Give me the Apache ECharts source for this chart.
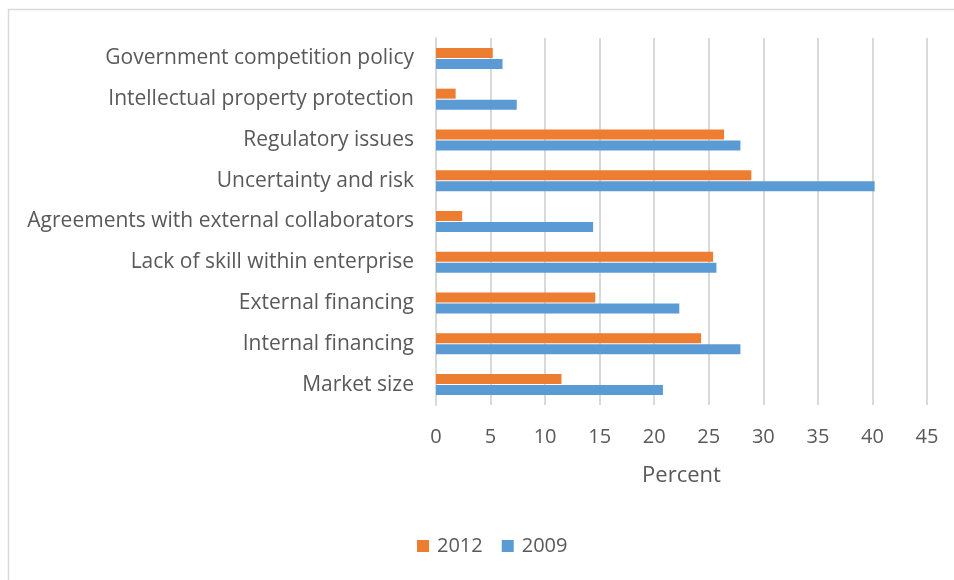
<!DOCTYPE html>
<html>
<head>
<meta charset="utf-8">
<script src="https://cdn.jsdelivr.net/npm/echarts@6/dist/echarts.min.js"></script>
<style>
  html, body { margin: 0; padding: 0; background: #fff; }
  #chart { width: 954px; height: 580px; }
</style>
</head>
<body>
<div id="chart"></div>
<script>
// Barriers to innovation, share of enterprises (top to bottom)
const categories = [
  'Government competition policy',
  'Intellectual property protection',
  'Regulatory issues',
  'Uncertainty and risk',
  'Agreements with external collaborators',
  'Lack of skill within enterprise',
  'External financing',
  'Internal financing',
  'Market size'
];
const values2012 = [5.2, 1.8, 26.4, 28.9, 2.4, 25.4, 14.6, 24.3, 11.5];
const values2009 = [6.1, 7.4, 27.9, 40.2, 14.4, 25.7, 22.3, 27.9, 20.8];
const seriesNames = ['2012', '2009'];
const xTicks = { min: 0, max: 45, interval: 5 };
const axisTitle = 'Percent';

const FONT = '"Open Sans", "Liberation Sans", sans-serif';
const TEXT = '#595959';
const GRID = '#d9d9d9';

const chart = echarts.init(document.getElementById('chart'), null, { renderer: 'canvas' });
chart.setOption({
  animation: false,
  backgroundColor: '#ffffff',
  textStyle: { fontFamily: FONT },
  graphic: [{
    type: 'rect',
    shape: { x: 8.5, y: 9.5, width: 1000, height: 700 },
    style: { fill: 'none', stroke: GRID, lineWidth: 1.5 },
    silent: true,
    z: -1
  }],
  grid: { left: 436, right: 27, top: 38, bottom: 175, containLabel: false },
  legend: {
    data: seriesNames,
    bottom: 19,
    left: 412,
    itemWidth: 12,
    itemHeight: 12,
    itemGap: 19,
    icon: 'rect',
    textStyle: { color: TEXT, fontSize: 20, fontFamily: FONT, padding: [0, 0, 0, 3] }
  },
  xAxis: {
    type: 'value',
    min: xTicks.min,
    max: xTicks.max,
    interval: xTicks.interval,
    name: axisTitle,
    nameLocation: 'middle',
    nameGap: 60,
    nameTextStyle: { color: TEXT, fontSize: 22, fontFamily: FONT },
    axisLine: { show: false },
    axisTick: { show: false },
    axisLabel: { color: TEXT, fontSize: 20, margin: 22, fontFamily: FONT },
    splitLine: { show: true, lineStyle: { color: GRID, width: 2 } }
  },
  yAxis: {
    type: 'category',
    data: categories,
    inverse: true,
    axisLine: { show: true, lineStyle: { color: GRID, width: 2 } },
    axisTick: { show: false },
    axisLabel: { color: TEXT, fontSize: 21, margin: 22, fontFamily: FONT, padding: [3, 0, 0, 0] }
  },
  series: [
    {
      name: seriesNames[0],
      type: 'bar',
      data: values2012,
      barWidth: 10,
      barGap: '10%',
      itemStyle: { color: '#ed7d31' }
    },
    {
      name: seriesNames[1],
      type: 'bar',
      data: values2009,
      barWidth: 10,
      barGap: '10%',
      itemStyle: { color: '#5b9bd5' }
    }
  ]
});
</script>
</body>
</html>
